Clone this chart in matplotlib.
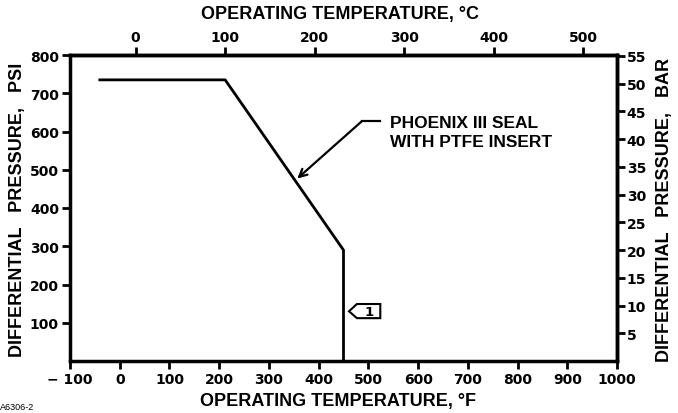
import matplotlib
matplotlib.use("Agg")
import matplotlib.pyplot as plt
from matplotlib.patches import Polygon

plt.rcParams['font.family'] = ['Liberation Sans', 'DejaVu Sans']
plt.rcParams['font.weight'] = 'bold'

# Data
temp_f = [-40, 212, 450, 450]
pressure_psi = [735, 735, 290, 0]

f_ticks = [-100, 0, 100, 200, 300, 400, 500, 600, 700, 800, 900, 1000]
f_labels = ['\u2212 100', '0', '100', '200', '300', '400', '500', '600', '700', '800', '900', '1000']
c_ticks = [0, 100, 200, 300, 400, 500]
c_labels = ['0', '100', '200', '300', '400', '500']
psi_ticks = [100, 200, 300, 400, 500, 600, 700, 800]
psi_labels = ['100', '200', '300', '400', '500', '600', '700', '800']
bar_ticks = [5, 10, 15, 20, 25, 30, 35, 40, 45, 50, 55]
bar_labels = ['5', '10', '15', '20', '25', '30', '35', '40', '45', '50', '55']

tick_font = dict(family='DejaVu Sans', weight='bold', size=10)

fig = plt.figure(figsize=(6.78, 4.14), dpi=100)
ax = fig.add_axes([70/678, 52/414, 547/678, 306/414])

ax.plot(temp_f, pressure_psi, color='black', lw=2)
ax.set_xlim(-100, 1000)
ax.set_ylim(0, 800)

for s in ax.spines.values():
    s.set_linewidth(2.5)

ax.set_xticks(f_ticks)
ax.set_xticklabels(f_labels, fontdict=tick_font)
ax.set_yticks(psi_ticks)
ax.set_yticklabels(psi_labels, fontdict=tick_font)
ax.tick_params(axis='both', which='major', direction='out', length=6, width=2, pad=2)

f2c = lambda f: (f - 32) / 1.8
c2f = lambda c: c * 1.8 + 32
secx = ax.secondary_xaxis('top', functions=(f2c, c2f))
secx.set_xticks(c_ticks)
secx.set_xticklabels(c_labels, fontdict=tick_font)
secx.tick_params(direction='out', length=6, width=2, pad=2)
secx.spines['top'].set_linewidth(2.5)

psi2bar = lambda p: p / 14.5038
bar2psi = lambda b: b * 14.5038
secy = ax.secondary_yaxis('right', functions=(psi2bar, bar2psi))
secy.set_yticks(bar_ticks)
secy.set_yticklabels(bar_labels, fontdict=tick_font)
secy.tick_params(direction='out', length=6, width=2, pad=1)
secy.spines['right'].set_linewidth(2.5)

fig.text(338/678, 1 - 402/414, 'OPERATING TEMPERATURE, \u00b0F', ha='center', va='center',
         fontsize=13, fontweight='bold')
fig.text(340/678, 1 - 14/414, 'OPERATING TEMPERATURE, \u00b0C', ha='center', va='center',
         fontsize=13, fontweight='bold')
fig.text(18/678, 1 - 210/414, 'DIFFERENTIAL   PRESSURE,   PSI', ha='center', va='center',
         rotation=90, fontsize=13, fontweight='bold')
fig.text(664/678, 1 - 210/414, 'DIFFERENTIAL   PRESSURE,   BAR', ha='center', va='center',
         rotation=90, fontsize=13, fontweight='bold')
fig.text(0.0, 1 - 408/414, 'A6306-2', ha='left', va='center', fontsize=6.5, fontweight='normal')

# Annotation text and leader
ax.text(544, 598, 'PHOENIX III SEAL\nWITH PTFE INSERT', fontsize=12.5, fontweight='bold',
        ha='left', va='center', linespacing=1.3)
ax.plot([487, 523], [627, 627], color='black', lw=1.6)
ax.annotate('', xy=(357, 477), xytext=(487, 627),
            arrowprops=dict(arrowstyle='->', color='black', lw=1.6,
                            shrinkA=0, shrinkB=0, mutation_scale=14))

# Callout "1"
pts = [(461, 130), (477, 149), (524, 149), (524, 112), (477, 112)]
ax.add_patch(Polygon(pts, closed=True, fill=False, edgecolor='black', lw=1.5))
ax.text(502, 130, '1', ha='center', va='center', fontsize=9.5, fontweight='bold',
        family='DejaVu Sans')

fig.savefig('out.png', dpi=100)
